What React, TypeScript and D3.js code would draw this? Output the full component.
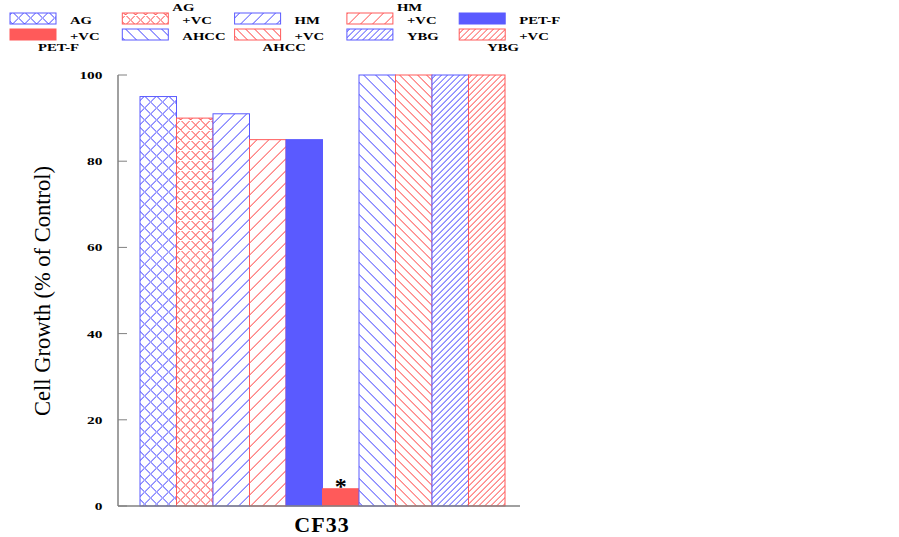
import React from "react";
import * as d3 from "d3";

const categories = ["AG", "AG+VC", "HM", "HM+VC", "PET-F", "PET-F+VC", "AHCC", "AHCC+VC", "YBG", "YBG+VC"];
const values = [95, 90, 91, 85, 85, 4, 100, 100, 100, 100];
const yTicks = [0, 20, 40, 60, 80, 100];
const groupLabel = "CF33";

const BLUE = "#5a5aff";
const RED = "#ff5a5a";

type Fill = { color: string; kind: "cross" | "fwd" | "back" | "solid"; s: number };
const fills: Fill[] = [
  { color: BLUE, kind: "cross", s: 12 },
  { color: RED, kind: "cross", s: 10 },
  { color: BLUE, kind: "fwd", s: 12 },
  { color: RED, kind: "fwd", s: 12 },
  { color: BLUE, kind: "solid", s: 0 },
  { color: RED, kind: "solid", s: 0 },
  { color: BLUE, kind: "back", s: 12 },
  { color: RED, kind: "back", s: 9 },
  { color: BLUE, kind: "fwd", s: 6 },
  { color: RED, kind: "fwd", s: 6 },
];

const legendItems: { col: number; row: number; main: string; extra?: string; above?: boolean }[] = [
  { col: 0, row: 0, main: "AG" },
  { col: 1, row: 0, main: "+VC", extra: "AG", above: true },
  { col: 2, row: 0, main: "HM" },
  { col: 3, row: 0, main: "+VC", extra: "HM", above: true },
  { col: 4, row: 0, main: "PET-F" },
  { col: 0, row: 1, main: "+VC", extra: "PET-F", above: false },
  { col: 1, row: 1, main: "AHCC" },
  { col: 2, row: 1, main: "+VC", extra: "AHCC", above: false },
  { col: 3, row: 1, main: "YBG" },
  { col: 4, row: 1, main: "+VC", extra: "YBG", above: false },
];

function HatchRect({ id, x, y, w, h, f }: { id: string; x: number; y: number; w: number; h: number; f: Fill }) {
  if (f.kind === "solid") {
    return <rect x={x} y={y} width={w} height={h} fill={f.color} stroke={f.color} strokeWidth={1} />;
  }
  const s = f.s;
  const t = 1.15;
  const polys: string[] = [];
  const y0 = y - 2, y1 = y + h + 2;
  if (f.kind === "fwd" || f.kind === "cross") {
    for (let c = Math.floor((x + y) / s) * s; c <= x + w + y + h + s; c += s) {
      const xa = c - y1, xb = c - y0;
      polys.push(`M${xa},${y1} L${xb},${y0} L${xb + t},${y0} L${xa + t},${y1} Z`);
    }
  }
  if (f.kind === "back" || f.kind === "cross") {
    for (let c = Math.floor((x - y - h) / s) * s; c <= x + w - y + s; c += s) {
      const xa = c + y0, xb = c + y1;
      polys.push(`M${xa},${y0} L${xb},${y1} L${xb + t},${y1} L${xa + t},${y0} Z`);
    }
  }
  return (
    <g>
      <clipPath id={id}>
        <rect x={x} y={y} width={w} height={h} />
      </clipPath>
      <rect x={x} y={y} width={w} height={h} fill="#fff" />
      <path d={polys.join(" ")} fill={f.color} stroke="none" clipPath={`url(#${id})`} />
      <rect x={x} y={y} width={w} height={h} fill="none" stroke={f.color} strokeWidth={1} />
    </g>
  );
}

function SText({ x, y, size, children, anchor = "start", sx = 1.4 }: any) {
  return (
    <text transform={`translate(${x},${y}) scale(${sx},1)`} fontSize={size} fontWeight="bold" textAnchor={anchor}>
      {children}
    </text>
  );
}

export default function App() {
  const W = 899, H = 537;
  const y = d3.scaleLinear().domain([0, 100]).range([506, 75]);
  const x = d3.scaleBand<string>().domain(categories).range([140, 505]).padding(0);
  const axisX = 118, axisRight = 520;
  const font = "'Liberation Serif', 'Times New Roman', serif";

  return (
    <svg width={W} height={H} style={{ position: "absolute", left: 0, top: 0, background: "#fff" }} fontFamily={font}>
      {legendItems.map((it, i) => {
        const sx = 10 + it.col * 112.3;
        const sy = it.row === 0 ? 13 : 29;
        const ty = it.row === 0 ? 24 : 40.3;
        return (
          <g key={i}>
            <HatchRect id={"lg" + i} x={sx} y={sy} w={46} h={11} f={fills[i]} />
            <SText x={sx + 60} y={ty} size={10.5}>{it.main}</SText>
            {it.extra && (
              <SText x={it.above ? sx + 50 : sx + 28} y={it.above ? 10.5 : 50.7} size={10.5}>
                {it.extra}
              </SText>
            )}
          </g>
        );
      })}

      {categories.map((c, i) => (
        <HatchRect
          key={c}
          id={"bar" + i}
          x={x(c)!}
          y={y(values[i])}
          w={x.bandwidth()}
          h={y(0) - y(values[i])}
          f={fills[i]}
        />
      ))}

      <text x={x("PET-F+VC")! + x.bandwidth() / 2} y={y(values[5]) + 5} fontSize={24} fontWeight="bold" textAnchor="middle">*</text>

      <line x1={axisX} x2={axisX} y1={y(100)} y2={y(0)} stroke="#808080" strokeWidth={1.5} />
      <line x1={axisX} x2={axisRight} y1={y(0)} y2={y(0)} stroke="#808080" strokeWidth={1.5} />
      {yTicks.map((t) => (
        <g key={t}>
          <line x1={axisX} x2={axisX + 9} y1={y(t)} y2={y(t)} stroke="#808080" strokeWidth={1} />
          <SText x={102.5} y={y(t) + 4} size={11} anchor="end">{t}</SText>
        </g>
      ))}

      <text transform={`translate(50,291) rotate(-90)`} fontSize={22.5} textAnchor="middle">
        Cell Growth (% of Control)
      </text>
      <text x={322} y={532} fontSize={22} fontWeight="bold" textAnchor="middle" letterSpacing={1}>{groupLabel}</text>
    </svg>
  );
}
